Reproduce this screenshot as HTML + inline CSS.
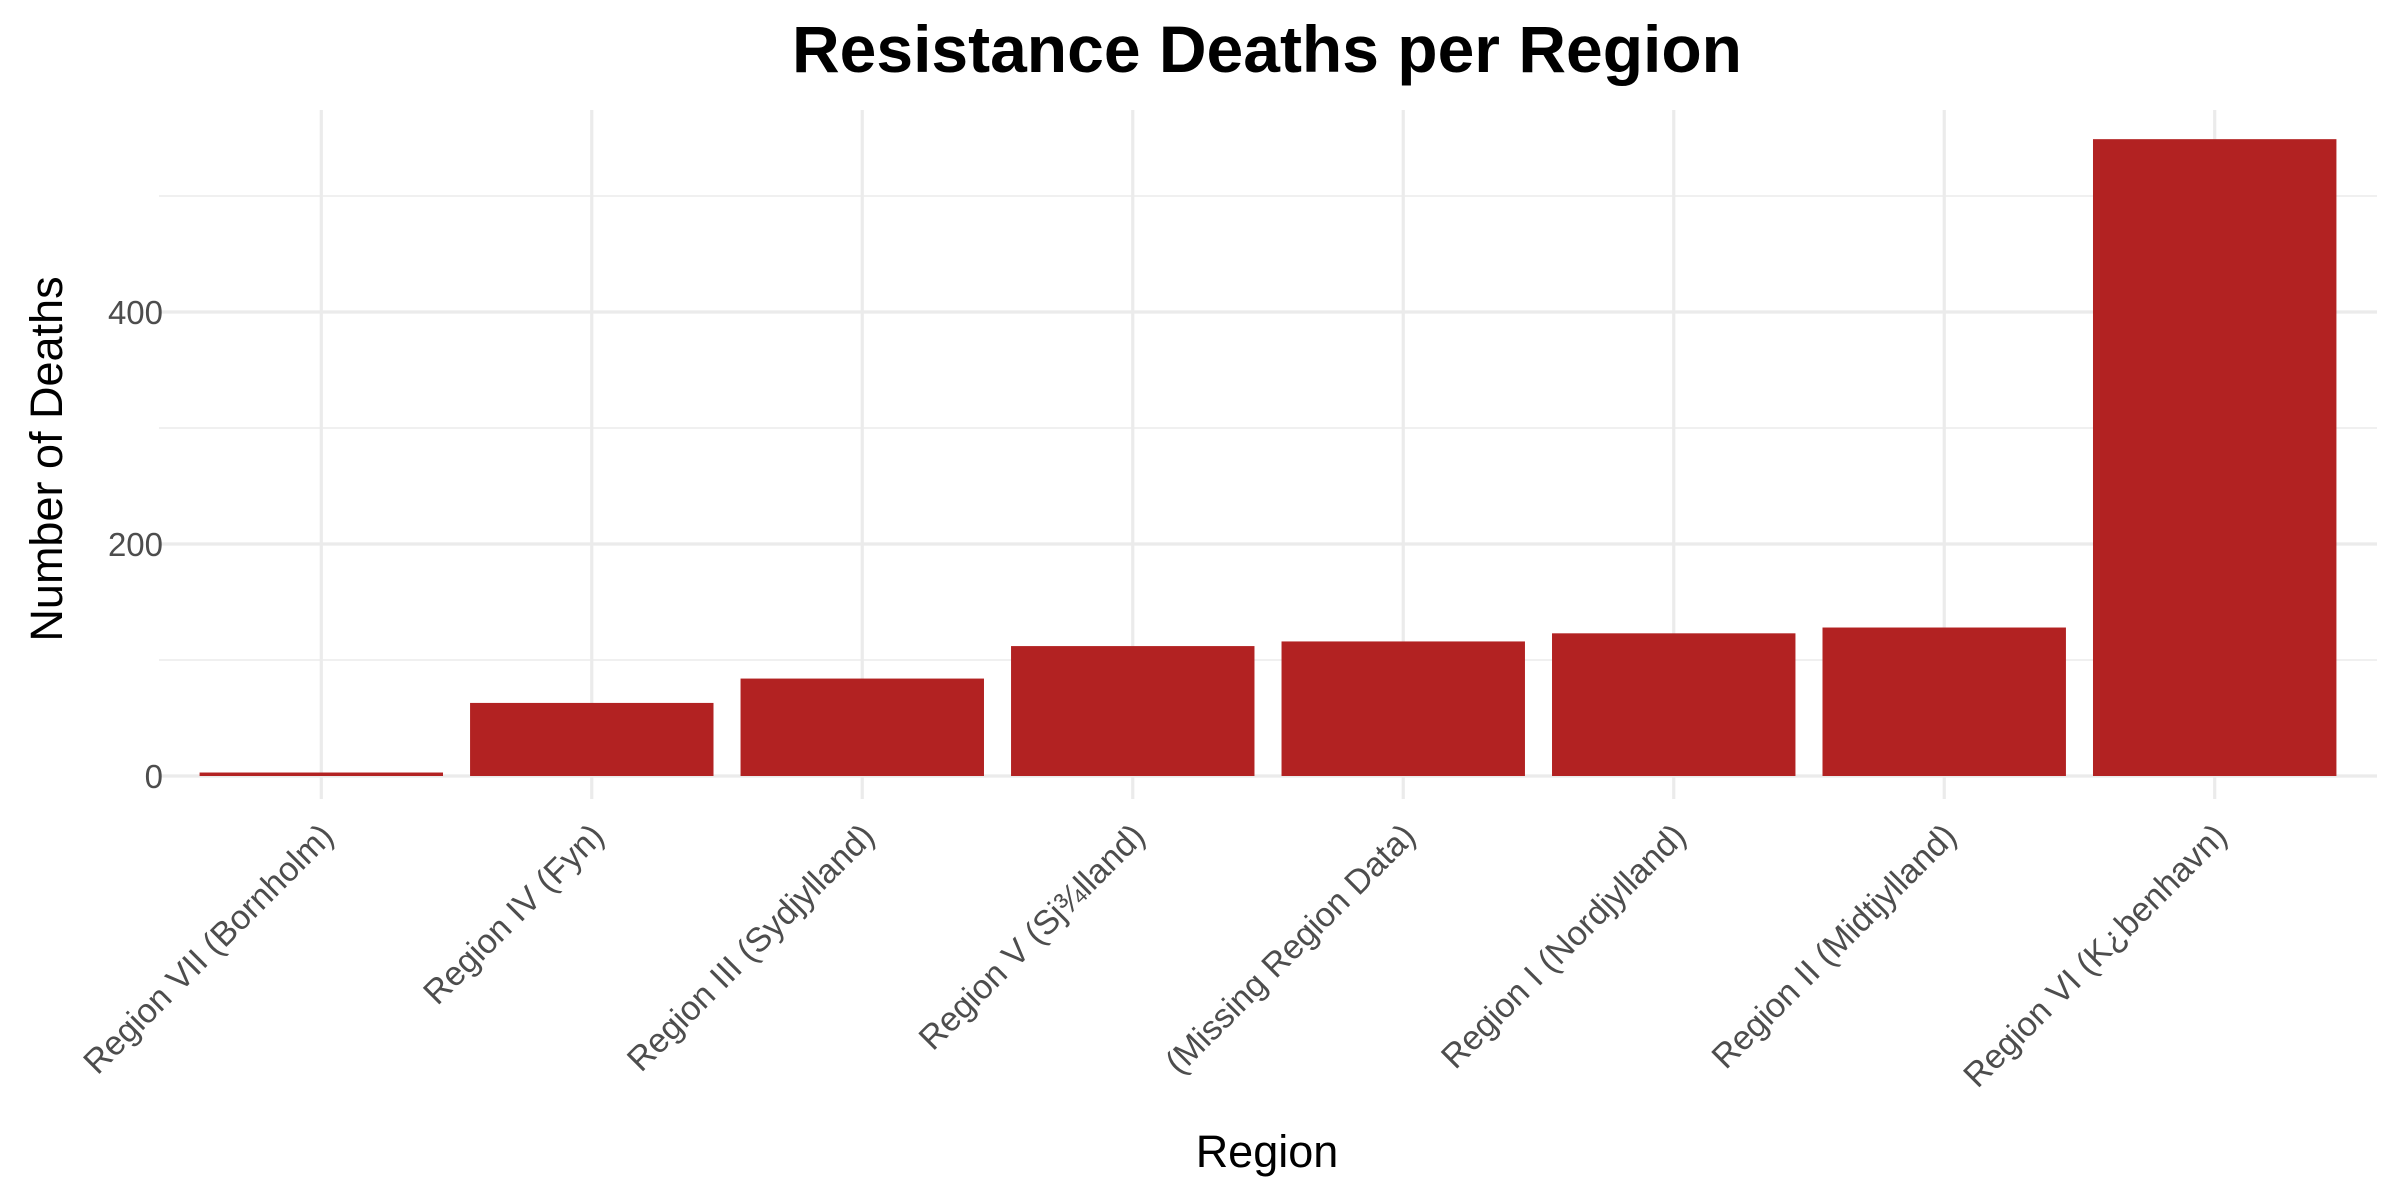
<!DOCTYPE html>
<html><head><meta charset="utf-8"><style>
html,body{margin:0;padding:0;background:#fff;}
svg{display:block;font-family:"Liberation Sans",Arial,sans-serif;}
</style></head><body>
<svg id="chart" width="2400" height="1200">
<rect width="2400" height="1200" fill="#fff"/>
<g id="grid"></g><g id="bars"></g><g id="ylabels"></g><g id="xlabels"></g>
<text x="1267" y="72" text-anchor="middle" font-size="66" font-weight="bold" fill="#000">Resistance Deaths per Region</text>
<text x="1267" y="1167" text-anchor="middle" font-size="45" fill="#000">Region</text>
<text transform="translate(62,459) rotate(-90)" text-anchor="middle" font-size="45" fill="#000">Number of Deaths</text>
</svg>
<script>
const categories = ["Region VII (Bornholm)","Region IV (Fyn)","Region III (Sydjylland)","Region V (Sj¾lland)","(Missing Region Data)","Region I (Nordjylland)","Region II (Midtjylland)","Region VI (K¿benhavn)"];
const values = [3, 63, 84, 112, 116, 123, 128, 549];
const yTicks = [0, 200, 400];
const yMinor = [100, 300, 500];

const NS = "http://www.w3.org/2000/svg";
const panelLeft = 159, panelRight = 2377, panelTop = 110, panelBottom = 799;
const y0px = 776, y400px = 312;
function yScale(v){ return y0px - v * (y0px - y400px) / 400; }
const step = (panelRight - panelLeft) / (categories.length - 1 + 1.2);
function xScale(i){ return panelLeft + step * (0.6 + i); }
const barW = step * 0.9;

function mk(tag, attrs, parent){ const e = document.createElementNS(NS, tag); for (const k in attrs) e.setAttribute(k, attrs[k]); parent.appendChild(e); return e; }
const grid = document.getElementById('grid');
yMinor.forEach(v => {
  const l = mk('line', {x1:panelLeft, x2:panelRight, y1:yScale(v), y2:yScale(v), stroke:'#ebebeb', 'stroke-width':1.6}, grid);
  
  
});
yTicks.forEach(v => {
  const l = mk('line', {x1:panelLeft, x2:panelRight, y1:yScale(v), y2:yScale(v), stroke:'#ebebeb', 'stroke-width':3.2}, grid);
  
  
  const t = mk('text', {x:163, y:yScale(v)+12, 'text-anchor':'end', 'font-size':33, fill:'#4d4d4d'}, document.getElementById('ylabels'));
  t.textContent = v;
  
  
});
categories.forEach((c, i) => {
  const x = xScale(i);
  const l = mk('line', {x1:x, x2:x, y1:panelTop, y2:panelBottom, stroke:'#ebebeb', 'stroke-width':3.2}, grid);
  
  
  const b = mk('rect', {x:x-barW/2, y:yScale(values[i]), width:barW, height:yScale(0)-yScale(values[i]), fill:'#b22222'}, document.getElementById('bars'));
  
  
  const t = mk('text', {transform:`translate(${x+14},${838}) rotate(-45)`, 'text-anchor':'end', 'font-size':34, fill:'#4d4d4d'}, document.getElementById('xlabels'));
  t.textContent = c;
  
  
});
</script>
</body></html>
